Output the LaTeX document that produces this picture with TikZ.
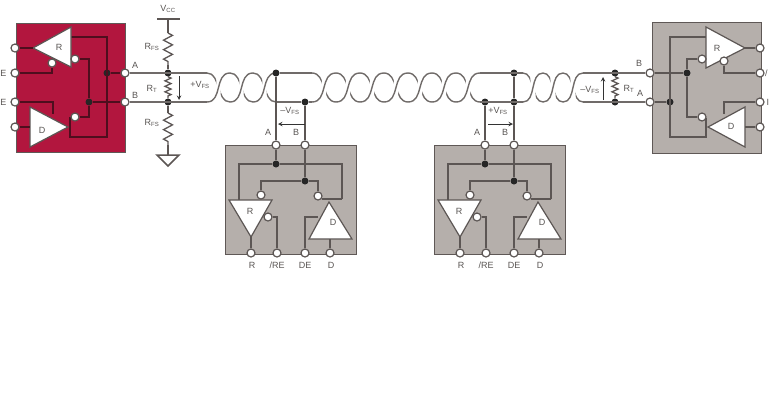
\documentclass[tikz,border=0pt]{standalone}
\usepackage{fontspec}
\setmainfont{Liberation Sans}
\usetikzlibrary{decorations.pathmorphing}
\definecolor{chipred}{RGB}{178,22,62}
\definecolor{chipgray}{RGB}{181,175,171}
\definecolor{chipedge}{RGB}{95,88,86}
\definecolor{linegray}{RGB}{92,86,84}
\definecolor{pairgray}{RGB}{112,107,105}
\definecolor{redline}{RGB}{78,14,30}
\definecolor{inkgray}{RGB}{88,84,82}
\tikzset{
  wire/.style={draw=linegray,line width=1.5pt},
  redwire/.style={draw=redline,line width=1.5pt},
  pair/.style={draw=pairgray,line width=1.4pt},
  pairhalo/.style={draw=white,line width=4pt,shorten >=9pt,shorten <=9pt},
  redchip/.style={fill=chipred,draw=chipedge,line width=1pt},
  graychip/.style={fill=chipgray,draw=chipedge,line width=1pt},
  amp/.style={fill=white,draw=linegray,line width=1.2pt,line join=miter},
  term/.style={circle,fill=white,draw=linegray,line width=1.2pt,minimum size=8pt,inner sep=0pt},
  dotj/.style={circle,fill=black!85,minimum size=7pt,inner sep=0pt},
  lbl/.style={font=\fontsize{9}{10}\selectfont,text=inkgray,inner sep=0pt},
  res/.style={draw=linegray,line width=1.3pt,decorate,decoration={zigzag,segment length=9.5pt,amplitude=4.5pt}},
  smallres/.style={draw=linegray,line width=1.3pt,decorate,decoration={zigzag,segment length=5.5pt,amplitude=3pt}},
  volt/.style={draw=black!80,line width=1pt,-stealth}
}
\newcommand{\halftwist}[2]{%
  \draw[pair] (#1,73) .. controls ({#1+#2*0.6},73) and ({#1+#2*0.4},102) .. ({#1+#2},102);
  \draw[pairhalo] (#1,102) .. controls ({#1+#2*0.68},102) and ({#1+#2*0.32},73) .. ({#1+#2},73);
  \draw[pair] (#1,102) .. controls ({#1+#2*0.68},102) and ({#1+#2*0.32},73) .. ({#1+#2},73);
}
\begin{document}
\begin{tikzpicture}[x=1pt,y=-1pt]
\useasboundingbox (0,0) rectangle (770,400);

\fill[redchip] (16,23) rectangle (125,152);
\fill[graychip] (652,22) rectangle (761,153);
\foreach \bx in {0,209}
\fill[graychip] ({225+\bx},145) rectangle ({356+\bx},254);

\foreach \x in {207,230,253}
{\halftwist{\x}{23}}
\foreach \x in {312,336,360,384,408,432,456}
{\halftwist{\x}{24}}
\foreach \x in {523,543,563}
{\halftwist{\x}{20}}

\node[term] (la) at (125,73) {};
\node[term] (lb) at (125,102) {};
\node[dotj] (jvt) at (168,73) {};
\node[dotj] (jvb) at (168,102) {};
\node[term] (ra) at (650,102) {};
\node[term] (rb) at (650,73) {};
\node[dotj] (jrt) at (615,73) {};
\node[dotj] (jrb) at (615,102) {};
\node[dotj] (jpa) at (276,73) {};
\node[dotj] (jpb) at (305,102) {};
\node[dotj] (jqa) at (485,102) {};
\node[dotj] (jqb) at (514,73) {};
\node[dotj] (jqc) at (514,102) {};
\coordinate (fa1) at (207,73);
\coordinate (fb1) at (207,102);
\coordinate (fa2) at (312,73);
\coordinate (fb2) at (276,102);
\coordinate (fa3) at (480,73);
\coordinate (fb3) at (480,102);
\coordinate (fa4) at (523,73);
\coordinate (fb4) at (523,102);
\coordinate (fa5) at (583,73);
\coordinate (fb5) at (583,102);
\draw[pair] (la) -- (fa1) (lb) -- (fb1);
\draw[pair] (jpa) -- (fa2) (fb2) -- (jpb) -- (312,102);
\draw[pair] (fa3) -- (fa4) (fb3) -- (fb4);
\draw[pair] (fa5) -- (rb) (fb5) -- (ra);

\coordinate (vccbar) at (168,19);
\coordinate (rta) at (168,33);
\coordinate (rtb) at (168,65);
\coordinate (rba) at (168,113);
\coordinate (rbb) at (168,145);
\coordinate (gnd) at (168,155);
\draw[wire] (157,19) -- (180,19);
\draw[wire] (vccbar) -- (rta) (rtb) -- (jvt) (jvb) -- (rba) (rbb) -- (gnd);
\draw[res] (rta) -- (rtb);
\draw[res] (rba) -- (rbb);
\draw[smallres] (jvt) -- (jvb);
\draw[wire,fill=white] (157,155) -- (179,155) -- (168,166) -- cycle;
\draw[volt] (179,76) -- (179,100);
\draw[smallres] (jrt) -- (jrb);
\draw[volt] (603,100) -- (603,77);

\node[lbl] (vcc) at (168,9) {V\textsubscript{CC}};
\node[lbl] (rfsa) at (152,47) {R\textsubscript{FS}};
\node[lbl] (rfsb) at (152,123) {R\textsubscript{FS}};
\node[lbl] (rtl) at (152,89) {R\textsubscript{T}};
\node[lbl] (vfsl) at (200,85) {+V\textsubscript{FS}};
\node[lbl] (labla) at (135,65) {A};
\node[lbl] (lablb) at (135,95) {B};
\node[lbl] (vfsr) at (590,90) {--V\textsubscript{FS}};
\node[lbl] (rtr) at (629,89) {R\textsubscript{T}};
\node[lbl] (labra) at (640,93) {A};
\node[lbl] (labrb) at (639,63) {B};

\foreach \bx/\bn in {0/p,209/q}{
\begin{scope}[shift={(\bx,0)},name prefix=\bn-]
\node[term] (a) at (276,145) {};
\node[term] (b) at (305,145) {};
\node[term] (r) at (251,253) {};
\node[term] (re) at (277,253) {};
\node[term] (de) at (305,253) {};
\node[term] (d) at (330,253) {};
\node[dotj] (ja) at (276,164) {};
\node[dotj] (jb) at (305,181) {};
\coordinate (rin) at (239,200);
\coordinate (dout) at (342,199);
\draw[wire] (rin) |- (ja) -| (dout);
\draw[wire] (a) -- (ja);
\draw[wire] (b) -- (jb);
\draw[wire] (dout) -- (322,199);
\draw[amp] (229,200) -- (272,200) -- (251,237) -- cycle;
\draw[amp] (309,239) -- (352,239) -- (329,202) -- cycle;
\node[term] (rbub) at (261,195) {};
\node[term] (dbub) at (318,196) {};
\node[term] (rebub) at (268,217) {};
\coordinate (deedge) at (318,217);
\coordinate (dbase) at (330,239);
\coordinate (rtip) at (251,237);
\draw[wire] (rbub) |- (jb) -| (dbub);
\draw[wire] (rebub) -| (re);
\draw[wire] (de) |- (deedge);
\draw[wire] (dbase) -- (d);
\draw[wire] (rtip) -- (r);
\node[lbl] (rname) at (250,211) {R};
\node[lbl] (dname) at (333,222) {D};
\node[lbl] (rtxt) at (252,265) {R};
\node[lbl] (retxt) at (277,265) {/RE};
\node[lbl] (detxt) at (305,265) {DE};
\node[lbl] (dtxt) at (331,265) {D};
\node[lbl] (atxt) at (268,132) {A};
\node[lbl] (btxt) at (296,132) {B};
\end{scope}
}
\draw[wire] (jpa) -- (p-a);
\draw[wire] (jpb) -- (p-b);
\draw[wire] (jqa) -- (q-a);
\draw[wire] (jqb) -- (jqc) -- (q-b);
\draw[pair] (jqa) -- (jqc);
\draw[volt] (305,124) -- (278,124);
\draw[volt] (488,124) -- (513,124);
\node[lbl] (vfsp) at (290,111) {--V\textsubscript{FS}};
\node[lbl] (vfsq) at (498,111) {+V\textsubscript{FS}};

\node[term] (lout) at (15,48) {};
\node[term] (lre) at (15,73) {};
\node[term] (lde) at (15,102) {};
\node[term] (ld) at (15,127) {};
\node[dotj] (jla) at (107,73) {};
\node[dotj] (jlb) at (89,102) {};
\coordinate (lbar) at (71,37);
\coordinate (lret) at (70,137);
\draw[redwire] (lbar) -| (107,137) -- (lret) -- (70,117);
\draw[redwire] (jla) -- (la);
\draw[redwire] (jlb) -- (lb);
\draw[amp] (33,48) -- (71,27) -- (71,67) -- cycle;
\draw[amp] (30,107) -- (68,127) -- (30,147) -- cycle;
\node[term] (lbr) at (52,63) {};
\node[term] (lbi) at (75,59) {};
\node[term] (lbd) at (75,117) {};
\coordinate (ltip) at (33,48);
\coordinate (ldedge) at (53,114);
\coordinate (ldin) at (30,127);
\draw[redwire] (lbi) -| (jlb) |- (lbd);
\draw[redwire] (lout) -- (ltip);
\draw[redwire] (lre) -| (lbr);
\draw[redwire] (lde) -| (ldedge);
\draw[redwire] (ld) -- (ldin);
\node[lbl] (lrname) at (59,47) {R};
\node[lbl] (ldname) at (42,130) {D};
\node[lbl,anchor=east] (lretxt) at (6.5,73) {E};
\node[lbl,anchor=east] (ldetxt) at (6.5,102) {E};

\node[term] (rout) at (760,48) {};
\node[term] (rre) at (760,73) {};
\node[term] (rde) at (760,102) {};
\node[term] (rd) at (760,127) {};
\node[dotj] (jra) at (670,102) {};
\node[dotj] (jrz) at (687,73) {};
\coordinate (rbar) at (706,37);
\coordinate (rret) at (706,137);
\draw[wire] (rbar) -| (670,137) -- (rret) -- (706,118);
\draw[wire] (ra) -- (jra);
\draw[wire] (rb) -- (jrz);
\draw[amp] (706,27) -- (745,48) -- (706,68) -- cycle;
\draw[amp] (745,107) -- (708,127) -- (745,147) -- cycle;
\node[term] (rbi) at (702,59) {};
\node[term] (rbd) at (702,117) {};
\node[term] (rbr) at (724,61) {};
\coordinate (rtipr) at (745,48);
\coordinate (rdedge) at (724,114);
\coordinate (rdin) at (745,127);
\draw[wire] (rbi) -| (jrz) |- (rbd);
\draw[wire] (rbr) |- (rre);
\draw[wire] (rde) -| (rdedge);
\draw[wire] (rd) -- (rdin);
\draw[wire] (rout) -- (rtipr);
\node[lbl] (rrname) at (717,48) {R};
\node[lbl] (rdname) at (731,126) {D};
\node[lbl,anchor=west] (rretxt) at (765,73) {/};
\node[lbl,anchor=west] (rdetxt) at (766.5,102) {I};
\end{tikzpicture}
\end{document}
